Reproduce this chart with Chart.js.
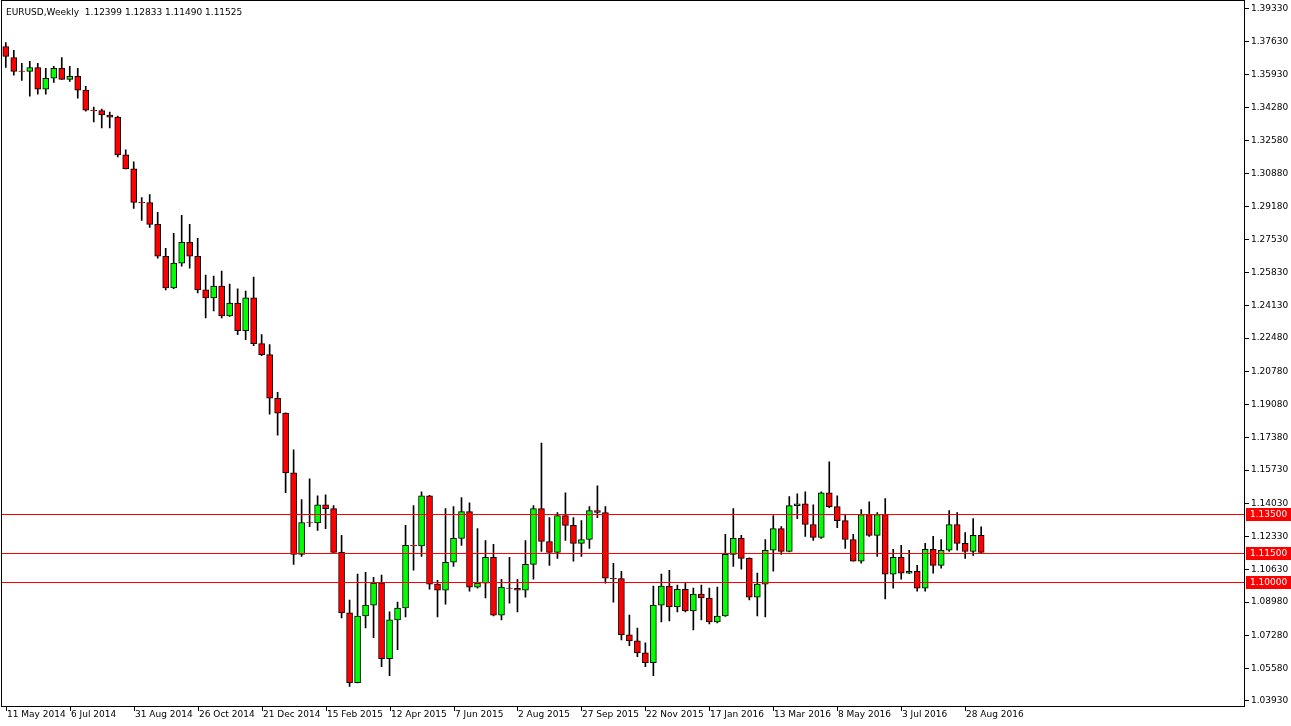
<!DOCTYPE html>
<html>
<head>
<meta charset="utf-8">
<script src="https://cdn.jsdelivr.net/npm/chart.js@4.4.1/dist/chart.umd.min.js"></script>
<style>
  html, body { margin: 0; padding: 0; background: #fff; }
  #wrap { width: 1291px; height: 726px; position: relative; }
</style>
</head>
<body>
<div id="wrap"><canvas id="chart" width="1291" height="726"></canvas></div>
<script>
// EURUSD weekly candles, 11 May 2014 .. 11 Sep 2016
const opens = [1.3738,1.3682,1.3612,1.3611,1.3631,1.3520,1.3576,1.3626,1.3570,1.3586,
  1.3515,1.3413,1.3410,1.3388,1.3377,1.3184,1.3113,1.2941,1.2940,1.2829,
  1.2666,1.2504,1.2631,1.2737,1.2666,1.2494,1.2453,1.2514,1.2361,1.2427,
  1.2285,1.2453,1.2219,1.2163,1.1940,1.1864,1.1559,1.1142,1.1305,1.1303,
  1.1396,1.1376,1.1152,1.0843,1.0487,1.0827,1.0883,1.0995,1.0609,1.0807,
  1.0868,1.1188,1.1185,1.1442,1.0990,1.0959,1.1102,1.1224,1.1361,1.0975,
  1.0995,1.1127,1.0832,1.0970,1.0968,1.0959,1.1091,1.1376,1.1208,1.1152,
  1.1340,1.1290,1.1198,1.1218,1.1366,1.1356,1.1020,1.1018,1.0731,1.0700,
  1.0639,1.0589,1.0883,1.0980,1.0873,1.0964,1.0853,1.0939,1.0919,1.0797,
  1.0827,1.1142,1.1224,1.1122,1.0924,1.0990,1.1163,1.1274,1.1157,1.1391,
  1.1401,1.1295,1.1229,1.1457,1.1386,1.1315,1.1218,1.1107,1.1345,1.1239,
  1.1345,1.1041,1.1127,1.1046,1.1056,1.0970,1.1168,1.1086,1.1163,1.1295,
  1.1198,1.1157,1.12399];
const highs = [1.3758,1.3718,1.3652,1.3662,1.3652,1.3626,1.3637,1.3682,1.3637,1.3626,
  1.3535,1.3428,1.3418,1.3403,1.3383,1.3210,1.3149,1.2966,1.2981,1.2890,
  1.2707,1.2783,1.2875,1.2829,1.2758,1.2570,1.2565,1.2590,1.2524,1.2499,
  1.2488,1.2560,1.2265,1.2214,1.1970,1.1866,1.1676,1.1422,1.1528,1.1442,
  1.1447,1.1391,1.1239,1.0909,1.1041,1.1051,1.1025,1.1036,1.0848,1.0898,
  1.1290,1.1391,1.1462,1.1444,1.1010,1.1376,1.1386,1.1432,1.1406,1.1274,
  1.1213,1.1193,1.1015,1.1127,1.1015,1.1213,1.1391,1.1711,1.1330,1.1356,
  1.1457,1.1330,1.1315,1.1386,1.1493,1.1386,1.1097,1.1056,1.0832,1.0766,
  1.0690,1.0980,1.1041,1.1061,1.0985,1.0995,1.0970,1.0985,1.0970,1.0975,
  1.1244,1.1376,1.1239,1.1125,1.1046,1.1218,1.1340,1.1284,1.1437,1.1452,
  1.1462,1.1396,1.1462,1.1615,1.1442,1.1345,1.1244,1.1371,1.1411,1.1356,
  1.1427,1.1168,1.1188,1.1163,1.1086,1.1198,1.1234,1.1218,1.1366,1.1356,
  1.1254,1.1325,1.12833];
const lows = [1.3631,1.3591,1.3565,1.3484,1.3494,1.3494,1.3555,1.3570,1.3560,1.3474,
  1.3408,1.3352,1.3322,1.3322,1.3174,1.3113,1.2910,1.2849,1.2814,1.2656,
  1.2494,1.2500,1.2615,1.2605,1.2478,1.2351,1.2387,1.2351,1.2358,1.2265,
  1.2240,1.2209,1.2158,1.1859,1.1752,1.1457,1.1091,1.1132,1.1284,1.1264,
  1.1274,1.1152,1.0817,1.0467,1.0485,1.0766,1.0716,1.0568,1.0522,1.0655,
  1.0822,1.1061,1.1132,1.0964,1.0822,1.0888,1.1081,1.1188,1.0954,1.0970,
  1.0919,1.0827,1.0807,1.0893,1.0848,1.0924,1.1015,1.1157,1.1086,1.1122,
  1.1213,1.1107,1.1132,1.1173,1.1330,1.0995,1.0898,1.0705,1.0675,1.0619,
  1.0568,1.0522,1.0797,1.0802,1.0848,1.0848,1.0756,1.0807,1.0787,1.0792,
  1.0825,1.1081,1.1066,1.0909,1.0827,1.0822,1.1056,1.1142,1.1155,1.1325,
  1.1234,1.1213,1.1224,1.1381,1.1279,1.1173,1.1107,1.1097,1.1234,1.1132,
  1.0914,1.0970,1.1015,1.1044,1.0954,1.0954,1.1046,1.1071,1.1157,1.1163,
  1.1122,1.1137,1.11490];
const closes = [1.3687,1.3611,1.3611,1.3631,1.3520,1.3576,1.3626,1.3570,1.3586,1.3515,
  1.3413,1.3410,1.3388,1.3377,1.3184,1.3113,1.2941,1.2940,1.2829,1.2666,
  1.2504,1.2631,1.2737,1.2666,1.2494,1.2453,1.2514,1.2361,1.2427,1.2285,
  1.2453,1.2219,1.2163,1.1940,1.1864,1.1559,1.1142,1.1305,1.1303,1.1396,
  1.1376,1.1152,1.0843,1.0487,1.0827,1.0883,1.0995,1.0609,1.0807,1.0868,
  1.1188,1.1185,1.1442,1.0990,1.0959,1.1102,1.1224,1.1361,1.0975,1.0995,
  1.1127,1.0832,1.0975,1.0968,1.0959,1.1091,1.1376,1.1208,1.1152,1.1340,
  1.1290,1.1198,1.1218,1.1366,1.1356,1.1020,1.1018,1.0731,1.0700,1.0639,
  1.0589,1.0883,1.0980,1.0873,1.0964,1.0853,1.0939,1.0919,1.0797,1.0827,
  1.1142,1.1224,1.1122,1.0924,1.0990,1.1163,1.1274,1.1157,1.1391,1.1401,
  1.1295,1.1229,1.1457,1.1386,1.1315,1.1218,1.1107,1.1345,1.1239,1.1345,
  1.1041,1.1127,1.1046,1.1056,1.0970,1.1168,1.1086,1.1163,1.1295,1.1198,
  1.1157,1.1239,1.11525];

// date labels every 8 weeks
const dateLabels = ['11 May 2014','6 Jul 2014','31 Aug 2014','26 Oct 2014','21 Dec 2014',
  '15 Feb 2015','12 Apr 2015','7 Jun 2015','2 Aug 2015','27 Sep 2015','22 Nov 2015',
  '17 Jan 2016','13 Mar 2016','8 May 2016','3 Jul 2016','28 Aug 2016'];
const priceTicks = [1.03930,1.05580,1.07280,1.08980,1.10630,1.12330,1.14030,1.15730,1.17380,
  1.19080,1.20780,1.22480,1.24130,1.25830,1.27530,1.29180,1.30880,1.32580,1.34280,1.35930,
  1.37630,1.39330];
const levels = [1.13500, 1.11500, 1.10000];
const titleText = 'EURUSD,Weekly  1.12399 1.12833 1.11490 1.11525';

const FONT = '9px "DejaVu Sans", sans-serif';

const wicks = opens.map((o, i) => ({ x: i, y: [lows[i], highs[i]] }));
const bodies = opens.map((o, i) => {
  let a = o, b = closes[i];
  if (Math.abs(a - b) < 0.00008) { b = a + 0.00008; }
  return { x: i, y: [a, b] };
});
const bodyColors = opens.map((o, i) => closes[i] > o ? '#00ff00' : (closes[i] < o ? '#ff0000' : '#000000'));

const overlay = {
  id: 'overlay',
  afterDatasetsDraw(chart) {
    const { ctx, chartArea: a, scales: { x, y } } = chart;
    ctx.save();
    // horizontal levels
    ctx.strokeStyle = '#ff0000';
    ctx.lineWidth = 1;
    levels.forEach(v => {
      const py = Math.round(y.getPixelForValue(v)) + 0.5;
      ctx.beginPath(); ctx.moveTo(a.left, py); ctx.lineTo(a.right, py); ctx.stroke();
    });
    // frame (full height, from top of canvas)
    ctx.strokeStyle = '#000';
    ctx.strokeRect(a.left + 0.5, 0.5, a.right - a.left - 1, a.bottom - 1);
    // level labels
    ctx.font = FONT;
    ctx.textBaseline = 'middle';
    levels.forEach(v => {
      const py = Math.round(y.getPixelForValue(v));
      ctx.fillStyle = '#ff0000';
      ctx.fillRect(a.right + 1, py - 6, 1291 - a.right - 1, 13);
      ctx.fillStyle = '#fff';
      ctx.fillText(v.toFixed(5), a.right + 5, py + 1);
    });
    // date labels, left-aligned at their candle
    ctx.fillStyle = '#000';
    ctx.textAlign = 'left';
    dateLabels.forEach((l, k) => {
      const px = Math.round(x.getPixelForValue(k * 8));
      ctx.fillRect(px, a.bottom, 1, 4);
      ctx.fillText(l, px + 1, a.bottom + 8);
    });
    // title
    ctx.fillText(titleText, a.left + 5, 13);
    ctx.restore();
  }
};

new Chart(document.getElementById('chart'), {
  type: 'bar',
  data: {
    datasets: [
      { data: wicks, backgroundColor: '#000', barThickness: 1, grouped: false, order: 2 },
      { data: bodies, backgroundColor: bodyColors, borderColor: '#000', borderWidth: 1,
        borderSkipped: false, barThickness: 6, grouped: false, order: 1 }
    ]
  },
  options: {
    responsive: false,
    animation: false,
    layout: { padding: { top: 1, left: 1, right: 0, bottom: 0 } },
    plugins: { legend: { display: false }, tooltip: { enabled: false } },
    scales: {
      x: {
        type: 'linear',
        offset: false,
        min: -0.6,
        max: 155,
        afterFit(s) { s.height = 19; },
        grid: { display: false },
        border: { display: false },
        ticks: { display: false }
      },
      y: {
        position: 'right',
        min: 1.0362,
        max: 1.3938,
        afterBuildTicks(s) { s.ticks = priceTicks.map(v => ({ value: v })); },
        afterFit(s) { s.width = 46; },
        grid: { drawOnChartArea: false, tickLength: 4, color: '#000' },
        border: { display: false },
        ticks: {
          crossAlign: 'near', padding: 2, color: '#000',
          font: { family: '"DejaVu Sans", sans-serif', size: 9 },
          callback(v) { return v.toFixed(5); }
        }
      }
    }
  },
  plugins: [overlay]
});
</script>
</body>
</html>
